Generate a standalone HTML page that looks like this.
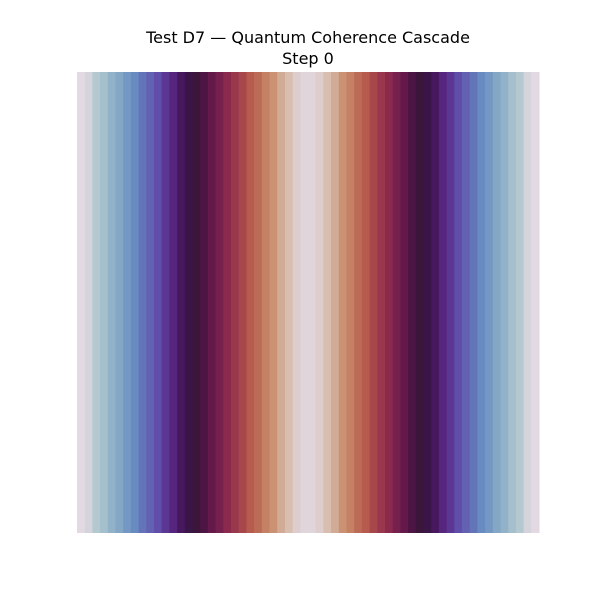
<!DOCTYPE html>
<html><head><meta charset="utf-8"><style>
body{margin:0;background:#fff;width:600px;height:600px;overflow:hidden}
svg{display:block}
text{font-family:"DejaVu Sans","Liberation Sans",sans-serif;font-size:16px;fill:#000}
</style></head><body>
<svg id="chart" width="600" height="600" viewBox="0 0 600 600">
<text x="308" y="43" text-anchor="middle">Test D7 — Quantum Coherence Cascade</text>
<text x="308" y="64" text-anchor="middle">Step 0</text>
<g id="cells"></g>
</svg>
<script>
const columnValues = [0.00,0.02,0.07,0.10,0.14,0.17,0.21,0.24,0.28,0.31,0.34,0.38,0.41,0.45,0.48,0.52,0.55,0.59,0.62,0.66,0.69,0.72,0.76,0.79,0.83,0.86,0.90,0.93,0.97,0.99,
0.99,0.97,0.93,0.90,0.86,0.83,0.79,0.76,0.72,0.69,0.66,0.62,0.59,0.55,0.52,0.48,0.45,0.41,0.38,0.34,0.31,0.28,0.24,0.21,0.17,0.14,0.10,0.07,0.02,0.00];
const rowCount = 60;
const stops=[[0,[226,217,226]],[0.07,[180,200,208]],[0.15,[140,175,200]],[0.25,[100,135,192]],[0.35,[96,72,168]],[0.43,[82,25,112]],[0.5,[48,20,54]],[0.58,[95,22,75]],[0.66,[140,42,78]],[0.75,[180,85,75]],[0.85,[200,140,105]],[0.93,[215,190,175]],[1,[226,217,226]]];
function cmap(v){for(let i=1;i<stops.length;i++){if(v<=stops[i][0]){const a=stops[i-1],b=stops[i],t=(v-a[0])/(b[0]-a[0]);return 'rgb('+a[1].map((c,k)=>Math.round(c+(b[1][k]-c)*t)).join(',')+')';}}return 'rgb(226,217,226)';}
const x0=77,x1=539,y0=72,y1=533;
const xs=i=>x0+(x1-x0)*i/columnValues.length;
const ys=j=>y0+(y1-y0)*j/rowCount;
const g=document.getElementById('cells');
columnValues.forEach((v,i)=>{
  const r=document.createElementNS('http://www.w3.org/2000/svg','rect');
  
  
  r.setAttribute('x',xs(i));r.setAttribute('y',ys(0));
  r.setAttribute('width',xs(i+1)-xs(i)+0.5);r.setAttribute('height',ys(rowCount)-ys(0));
  r.setAttribute('fill',cmap(v));
  g.appendChild(r);
});
</script>
</body></html>
